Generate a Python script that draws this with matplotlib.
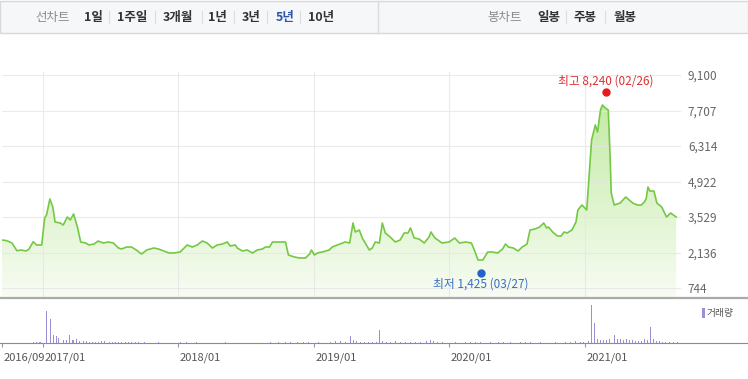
import numpy as np
import pandas as pd
import matplotlib
matplotlib.use("Agg")
import matplotlib.pyplot as plt
import matplotlib.dates as mdates
from matplotlib import transforms
from matplotlib.patches import Rectangle
from matplotlib.lines import Line2D
from matplotlib.colors import LinearSegmentedColormap

plt.rcParams['font.family'] = ['Noto Sans CJK KR', 'DejaVu Sans']

W, H = 748, 379

# weekly price
price_dates = [
    '2016-09-13', '2016-09-26', '2016-10-10', '2016-10-23', '2016-11-03', '2016-11-17', '2016-11-25', '2016-12-06', '2016-12-15', '2016-12-29',
    '2017-01-06', '2017-01-11', '2017-01-20', '2017-01-28', '2017-02-03', '2017-02-17', '2017-02-25', '2017-03-08', '2017-03-16', '2017-03-25',
    '2017-04-05', '2017-04-13', '2017-04-27', '2017-05-05', '2017-05-19', '2017-05-30', '2017-06-13', '2017-06-26', '2017-07-10', '2017-07-24',
    '2017-08-01', '2017-08-15', '2017-08-28', '2017-09-10', '2017-09-24', '2017-10-08', '2017-10-27', '2017-11-09', '2017-11-23', '2017-12-07',
    '2017-12-20', '2018-01-06', '2018-01-25', '2018-02-08', '2018-02-21', '2018-03-07', '2018-03-20', '2018-04-03', '2018-04-16', '2018-04-30',
    '2018-05-13', '2018-05-21', '2018-06-04', '2018-06-09', '2018-06-23', '2018-07-06', '2018-07-20', '2018-08-02', '2018-08-16', '2018-08-24',
    '2018-09-04', '2018-09-12', '2018-09-25', '2018-10-09', '2018-10-17', '2018-10-25', '2018-11-10', '2018-11-24', '2018-12-10', '2018-12-21',
    '2018-12-26', '2019-01-03', '2019-01-11', '2019-01-24', '2019-02-12', '2019-02-20', '2019-03-06', '2019-03-19', '2019-03-27', '2019-04-08',
    '2019-04-17', '2019-04-23', '2019-05-04', '2019-05-12', '2019-05-20', '2019-05-31', '2019-06-08', '2019-06-16', '2019-06-27', '2019-07-05',
    '2019-07-13', '2019-07-26', '2019-08-09', '2019-08-22', '2019-09-02', '2019-09-12', '2019-09-19', '2019-09-29', '2019-10-12', '2019-10-26',
    '2019-11-08', '2019-11-13', '2019-11-24', '2019-12-13', '2020-01-01', '2020-01-16', '2020-01-29', '2020-02-14', '2020-03-01', '2020-03-09',
    '2020-03-19', '2020-04-01', '2020-04-14', '2020-04-27', '2020-05-11', '2020-05-24', '2020-06-01', '2020-06-09', '2020-06-22', '2020-07-05',
    '2020-07-16', '2020-07-29', '2020-08-06', '2020-08-19', '2020-09-01', '2020-09-12', '2020-09-20', '2020-09-25', '2020-10-06', '2020-10-19',
    '2020-10-29', '2020-11-06', '2020-11-14', '2020-11-27', '2020-12-08', '2020-12-13', '2020-12-24', '2021-01-06', '2021-01-19', '2021-01-29',
    '2021-02-04', '2021-02-12', '2021-02-17', '2021-02-25', '2021-03-05', '2021-03-10', '2021-03-13', '2021-03-21', '2021-04-06', '2021-04-21',
    '2021-05-10', '2021-05-22', '2021-06-02', '2021-06-10', '2021-06-15', '2021-06-20', '2021-06-25', '2021-07-06', '2021-07-14', '2021-07-27',
    '2021-08-09', '2021-08-20', '2021-09-04',
]
price_values = [
    2627, 2600, 2509, 2207, 2235, 2195, 2274, 2560, 2431, 2431,
    3490, 3608, 4235, 3922, 3333, 3294, 3215, 3529, 3412, 3647,
    3098, 2549, 2509, 2431, 2470, 2588, 2509, 2549, 2509, 2313,
    2274, 2352, 2352, 2235, 2078, 2235, 2313, 2274, 2196, 2117,
    2117, 2156, 2431, 2352, 2431, 2588, 2509, 2313, 2431, 2470,
    2549, 2392, 2431, 2313, 2196, 2235, 2117, 2235, 2274, 2352,
    2352, 2549, 2549, 2549, 2549, 2039, 1960, 1921, 1921, 2078,
    2235, 2039, 2117, 2156, 2235, 2352, 2431, 2509, 2549, 2509,
    3294, 2941, 3019, 2706, 2509, 2235, 2313, 2549, 2509, 3294,
    2902, 2745, 2549, 2627, 2902, 2902, 3098, 2706, 2666, 2509,
    2745, 2941, 2706, 2509, 2549, 2706, 2509, 2549, 2509, 2235,
    1842, 1842, 2156, 2156, 2117, 2274, 2470, 2352, 2313, 2196,
    2352, 2470, 3019, 3058, 3137, 3294, 3098, 3137, 2941, 2784,
    2784, 2941, 2902, 3019, 3333, 3804, 4000, 3804, 6550, 7138,
    6864, 7727, 7923, 7805, 7727, 5883, 4471, 4000, 4079, 4314,
    4079, 4000, 4000, 4118, 4235, 4706, 4549, 4549, 4079, 3922,
    3529, 3686, 3529,
]

# weekly volume (relative units)
vol_dates = [
    '2016-12-06', '2016-12-14', '2016-12-22', '2016-12-27',
    '2017-01-10', '2017-01-15', '2017-01-23', '2017-01-29', '2017-02-06', '2017-02-11', '2017-02-19', '2017-02-27', '2017-03-07', '2017-03-13',
    '2017-03-21', '2017-03-26', '2017-04-03', '2017-04-11', '2017-04-20', '2017-04-28', '2017-05-06', '2017-05-14', '2017-05-22', '2017-05-30',
    '2017-06-07', '2017-06-15', '2017-06-23', '2017-07-01', '2017-07-09', '2017-07-17', '2017-07-25', '2017-08-02', '2017-08-13', '2017-08-21',
    '2017-08-29', '2017-09-09', '2017-09-17', '2017-10-03', '2017-10-25', '2017-11-10',
    '2018-01-08', '2018-01-22', '2018-02-18', '2018-05-09', '2018-09-07', '2018-09-29', '2018-10-18', '2018-10-31', '2018-11-19', '2018-12-05',
    '2018-12-19',
    '2019-01-15', '2019-02-16', '2019-03-01', '2019-03-15', '2019-03-28', '2019-04-11', '2019-04-19', '2019-04-27', '2019-05-08', '2019-05-19',
    '2019-05-29', '2019-06-09', '2019-06-20', '2019-06-28', '2019-07-06', '2019-07-17', '2019-07-27', '2019-08-10', '2019-08-23', '2019-09-06',
    '2019-09-19', '2019-10-03', '2019-10-16', '2019-11-01', '2019-11-12', '2019-11-20', '2019-12-01', '2019-12-14',
    '2020-01-18', '2020-02-14', '2020-02-28', '2020-03-12', '2020-03-26', '2020-04-22', '2020-05-13', '2020-05-27', '2020-06-14', '2020-07-11',
    '2020-07-25', '2020-08-07', '2020-09-03', '2020-10-14', '2020-11-09', '2020-11-23', '2020-12-06', '2020-12-20', '2020-12-28',
    '2021-01-10', '2021-01-18', '2021-01-26', '2021-02-03', '2021-02-11', '2021-02-19', '2021-02-27', '2021-03-07', '2021-03-15', '2021-03-23',
    '2021-03-31', '2021-04-08', '2021-04-16', '2021-04-24', '2021-05-02', '2021-05-10', '2021-05-18', '2021-05-26', '2021-06-03', '2021-06-11',
    '2021-06-19', '2021-06-28', '2021-07-06', '2021-07-14', '2021-07-22', '2021-07-30', '2021-08-07', '2021-08-18', '2021-08-28', '2021-09-08',
]
vol_values = [
    100, 130, 100, 150,
    3200, 850, 2400, 800, 670, 500, 400, 300, 300, 800,
    300, 300, 400, 250, 200, 200, 150, 150, 150, 150,
    200, 250, 200, 150, 150, 100, 100, 100, 100, 100,
    100, 120, 100, 100, 100, 100,
    100, 100, 100, 80, 100, 100, 100, 100, 120, 100,
    150,
    80, 150, 250, 200, 150, 700, 300, 200, 150, 150,
    150, 100, 120, 1270, 200, 150, 100, 200, 150, 100,
    100, 100, 150, 200, 300, 250, 150, 100,
    100, 100, 100, 100, 100, 100, 100, 100, 100, 150,
    100, 150, 100, 100, 100, 150, 200, 150, 150,
    200, 3800, 2000, 400, 350, 300, 350, 400, 2700, 800,
    400, 400, 350, 400, 300, 300, 200, 250, 200, 400,
    300, 1600, 400, 250, 200, 150, 150, 150, 150, 100,
]

y_ticks = [744, 2136, 3529, 4922, 6314, 7707, 9100]
x_tick_dates = ['2016-09-13', '2017-01-01', '2018-01-01', '2019-01-01', '2020-01-01', '2021-01-01']
x_tick_labels = ['2016/09', '2017/01', '2018/01', '2019/01', '2020/01', '2021/01']

high_date, high_value, high_label = '2021-02-26', 8240, '최고 8,240 (02/26)'
low_date, low_value, low_label = '2020-03-27', 1425, '최저 1,425 (03/27)'

line_label = '선차트'
period_labels = ['1일', '1주일', '3개월', '1년', '3년', '5년', '10년']
candle_label = '봉차트'
candle_labels = ['일봉', '주봉', '월봉']
vol_label = '거래량'


def fx(px):
    return px / W


def fy(py):
    return 1 - py / H


def num(d):
    return mdates.date2num(pd.to_datetime(d))


fig = plt.figure(figsize=(W / 100, H / 100), dpi=100)

# toolbar
fig.patches.append(Rectangle((0, fy(33)), 1, 32 / H, transform=fig.transFigure,
                             facecolor='#f6f7f9', edgecolor='#d8d8d8', lw=1))
fig.add_artist(Line2D([fx(378)] * 2, [fy(1), fy(33)], color='#dcdcdc', lw=1))
ty = fy(17)
fig.text(fx(35), ty, line_label, ha='left', va='center', fontsize=9, color='#8a8a8a')
p_x = [84, 117, 163, 208, 242, 276, 308]
for s, px in zip(period_labels, p_x):
    c = '#2f55a9' if s == '5년' else '#333333'
    fig.text(fx(px), ty, s, ha='left', va='center', fontsize=9, color=c, fontweight='bold')
for px in [109, 155, 202, 234, 267, 300]:
    fig.add_artist(Line2D([fx(px)] * 2, [fy(11), fy(23)], color='#dddddd', lw=0.8))
fig.text(fx(487), ty, candle_label, ha='left', va='center', fontsize=9, color='#8a8a8a')
for s, px in zip(candle_labels, [537, 573, 614]):
    fig.text(fx(px), ty, s, ha='left', va='center', fontsize=9, color='#333333', fontweight='bold')
for px in [566, 605]:
    fig.add_artist(Line2D([fx(px)] * 2, [fy(11), fy(23)], color='#dddddd', lw=0.8))

x0, x1 = num('2016-09-13'), num('2021-09-17')
ylo, yhi = 391, 9218

# price panel
ax = fig.add_axes([fx(2), fy(297), (681 - 2) / W, (297 - 72) / H])
px_ = num(price_dates)
poly = ax.fill_between(px_, price_values, ylo, facecolor='none', edgecolor='none')
cmap = LinearSegmentedColormap.from_list('g', ['#f8fcf4', '#bbe898'])
grad = np.linspace(0, 1, 256).reshape(-1, 1)
img = ax.imshow(grad, extent=[px_[0], px_[-1], ylo, yhi], origin='lower',
                aspect='auto', cmap=cmap, zorder=2)
img.set_clip_path(poly.get_paths()[0], transform=ax.transData)
ax.plot(px_, price_values, color='#74c944', lw=1.2, zorder=3)
ax.set_xlim(x0, x1)
ax.set_ylim(ylo, yhi)
ax.set_yticks(y_ticks)
ax.set_yticklabels([f'{v:,}' for v in y_ticks])
ax.yaxis.tick_right()
ax.tick_params(axis='y', length=0, pad=5, labelsize=8.5, labelcolor='#666666')
ax.set_xticks(num(x_tick_dates[1:]))
ax.tick_params(axis='x', length=0, labelbottom=False)
ax.set_axisbelow(False)
ax.grid(True, color='#e6e6e6', lw=0.8, alpha=0.8)
for sp in ax.spines.values():
    sp.set_visible(False)

# high / low marks
hx, lx = num(high_date), num(low_date)
ax.plot(hx, high_value, 'o', color='#e8191e', ms=5, clip_on=False, zorder=4,
        transform=transforms.offset_copy(ax.transData, fig=fig, x=0, y=3.6, units='points'))
ax.plot(lx, low_value, 'o', color='#1f63d1', ms=5, clip_on=False, zorder=4,
        transform=transforms.offset_copy(ax.transData, fig=fig, x=0, y=-1.7, units='points'))
ax.annotate(high_label, xy=(hx, high_value), xytext=(0, 11.5), textcoords='offset points',
            ha='center', va='center', fontsize=8.5, color='#dd3030', annotation_clip=False)
ax.annotate(low_label, xy=(lx, low_value), xytext=(0, -9.6), textcoords='offset points',
            ha='center', va='center', fontsize=8.5, color='#3a6ec2', annotation_clip=False)

# panel borders
fig.add_artist(Line2D([0, 1], [fy(297.5)] * 2, color='#aaaaaa', lw=1.6))
fig.add_artist(Line2D([0, 1], [fy(343)] * 2, color='#8c8c8c', lw=0.8))

# volume panel
vax = fig.add_axes([fx(2), fy(343), (681 - 2) / W, (343 - 299) / H])
vax.bar(num(vol_dates), vol_values, width=2.6, color='#9b8fd6', align='center')
vax.set_xlim(x0, x1)
vax.set_ylim(0, 4400)
vax.set_yticks([])
for sp in vax.spines.values():
    sp.set_visible(False)
vax.set_xticks(num(x_tick_dates))
vax.set_xticklabels(x_tick_labels)
vax.tick_params(axis='x', length=3, width=0.8, color='#999999', labelsize=8,
                labelcolor='#555555', pad=4)
shift = transforms.ScaledTranslation(1.5 / 100, 0, fig.dpi_scale_trans)
for lab in vax.get_xticklabels():
    lab.set_horizontalalignment('left')
    lab.set_transform(lab.get_transform() + shift)

# volume legend
fig.patches.append(Rectangle((fx(702), fy(318)), 2.5 / W, 10 / H, transform=fig.transFigure,
                             facecolor='#9b8fd6', edgecolor='none'))
fig.text(fx(707), fy(313), vol_label, ha='left', va='center', fontsize=7, color='#555555')

fig.savefig('out.png', dpi=100)
